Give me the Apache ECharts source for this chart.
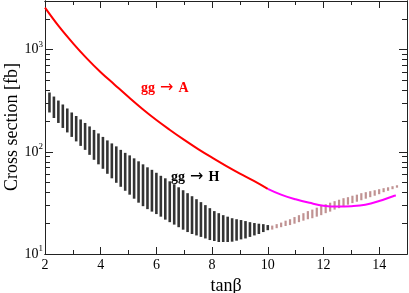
<!DOCTYPE html>
<html><head><meta charset="utf-8">
<script src="https://cdn.jsdelivr.net/npm/echarts@6/dist/echarts.min.js"></script>
<style>html,body{margin:0;padding:0;background:#fff}#c{width:409px;height:293px}</style>
</head><body><div id="c"></div>
<script>
// gg -> H : band of values per tanBeta (black part)
const hX = [2.16,2.32,2.48,2.64,2.80,2.96,3.12,3.28,3.44,3.60,3.76,3.92,4.08,4.24,4.40,4.56,4.72,4.88,5.04,5.20,5.36,5.52,5.68,5.84,6.00,6.16,6.32,6.48,6.64,6.80,6.96,7.12,7.28,7.44,7.60,7.76,7.92,8.08,8.24,8.40,8.56,8.72,8.88,9.04,9.20,9.36,9.52,9.68,9.84,10.00];
const hHigh = [381,348,318,291,266,243,224.5,207.6,191.9,177.4,163.9,151.5,140.1,129.5,121.0,113.2,104.6,97.8,92.4,86.4,80.8,75.5,70.6,66.7,62.4,58.3,55.1,51.5,48.2,45.0,42.1,39.4,36.8,34.4,32.2,30.1,28.1,26.3,25.1,24.0,23.2,22.4,21.9,21.5,21.0,20.5,20.1,19.8,19.6,19.2];
const hLow = [243,214.6,191.9,171.5,155.0,140.1,126.6,114.4,104.6,93.5,83.6,75.5,68.3,61.0,55.1,49.8,45.5,41.6,38.1,34.8,31.8,29.4,27.5,26.0,24.6,23.2,21.7,20.5,19.4,18.3,17.3,16.4,15.7,15.2,14.7,14.2,13.7,13.4,13.1,13.1,13.1,13.2,13.5,13.9,14.2,14.7,15.2,15.7,16.4,17.1];
// gg -> H : band continued (pink part)
const h2X = [10.16,10.32,10.48,10.64,10.80,10.96,11.12,11.28,11.44,11.60,11.76,11.92,12.08,12.24,12.40,12.56,12.72,12.88,13.04,13.20,13.36,13.52,13.68,13.84,14.00,14.16,14.32,14.48,14.64];
const h2High = [18.97,19.6,20.3,21.2,21.9,23.0,24.0,25.1,26.3,27.2,28.4,29.7,30.7,31.8,32.9,34.0,35.2,36.0,37.2,38.1,39.4,40.3,41.2,42.1,43.1,44.1,45.0,46.1,47.1];
const h2Low = [17.34,17.9,18.3,18.8,19.2,19.8,20.5,21.2,21.9,22.4,23.2,24.0,25.1,26.0,27.2,28.1,29.4,30.4,31.5,32.5,33.6,34.8,36.0,37.2,38.5,40.3,41.6,43.1,44.6];
// gg -> A (red part)
const aX = [2,2.5,3,3.5,4,4.5,5,5.5,6,6.5,7,7.5,8,8.5,9,9.5,10];
const aY = [2586,1692,1163,824,603,455,344,263,205,163,131,106.5,87.8,73,61.3,52,43.5];
// gg -> A (magenta part)
const mX = [10,10.5,11,11.5,12,12.5,13,13.5,14,14.5,14.6];
const mY = [43.5,37.9,34.3,31.7,29.7,29.1,29.4,30.4,33.0,36.8,37.3];
// ticks
const xMajor = [2,4,6,8,10,12,14];
const xMinor = [3,5,7,9,11,13,15];
const yMajor = [10,100,1000];
const yExp = {10:'1',100:'2',1000:'3'};
const yMinor = [20,30,40,50,60,70,80,90,200,300,400,500,600,700,800,900,2000,3000];
const yTitle = 'Cross section [fb]';
const xTitle = 'tanβ';

const F = '"Liberation Serif","DejaVu Serif","Times New Roman",serif';
const lineC = '#222';

function band(xs, lo, hi){ return xs.map((x,i)=>[x, lo[i], hi[i]]); }
function pts(xs, ys){ return xs.map((x,i)=>[x, ys[i]]); }

function xAx(pos, vals, len, labels){
  return {type:'value', position:pos, min:2, max:15, gridIndex:0,
    axisLine:{show:true, lineStyle:{color:lineC, width:1}},
    axisTick:{show:true, inside:true, length:len, customValues:vals, lineStyle:{color:lineC}},
    axisLabel:labels ? {show:true, customValues:xMajor, fontSize:14, fontFamily:F, color:'#000', margin:4} : {show:false},
    splitLine:{show:false}};
}
function yAx(pos, vals, len, labels){
  return {type:'log', logBase:10, position:pos, min:10, max:3000, gridIndex:0,
    axisLine:{show:true, lineStyle:{color:lineC, width:1}},
    axisTick:{show:true, inside:true, length:len, customValues:vals, lineStyle:{color:lineC}},
    axisLabel:labels ? {show:true, customValues:yMajor, margin:2,
      formatter:(v)=>'{a|10}{b|'+yExp[Math.round(v)]+'}',
      rich:{a:{fontSize:14, fontFamily:F, color:'#000'}, b:{fontSize:9, fontFamily:F, color:'#000', padding:[0,0,10,0]}}} : {show:false},
    splitLine:{show:false}, minorSplitLine:{show:false}};
}

const xa0 = xAx('bottom', xMajor, 7, true);
xa0.name = xTitle; xa0.nameLocation='middle'; xa0.nameGap = 18;
xa0.nameTextStyle = {fontSize:18, fontFamily:F, color:'#000'};
const ya0 = yAx('left', yMajor, 8, true);

function barSeries(data, color, w){
  return {type:'custom', xAxisIndex:0, yAxisIndex:0, z:2, silent:true,
    encode:{x:0, y:[1,2]}, data:data,
    renderItem:(params, api)=>{
      const x = api.value(0), lo = api.value(1), hi = api.value(2);
      const p1 = api.coord([x, hi]), p2 = api.coord([x, lo]);
      return {type:'rect', shape:{x:p1[0]-w/2, y:p1[1], width:w, height:Math.max(1.5, p2[1]-p1[1])}, style:{fill:color}};
    }};
}

const rich = {
  g:{fontSize:14, fontWeight:'bold', fontFamily:F},
  r:{fontSize:16, fontWeight:'normal', fontFamily:'"DejaVu Sans",sans-serif', padding:[0,5,0,5]}
};

const chart = echarts.init(document.getElementById('c'), null, {renderer:'canvas'});
chart.setOption({
  animation:false,
  backgroundColor:'#fff',
  grid:{left:45, right:2, top:1, bottom:39, containLabel:false, outerBoundsMode:'none'},
  xAxis:[xa0, xAx('bottom', xMinor, 4, false), xAx('top', xMajor, 7, false), xAx('top', xMinor, 4, false)],
  yAxis:[ya0, yAx('left', yMinor, 5, false), yAx('right', yMajor, 8, false), yAx('right', yMinor, 5, false)],
  series:[
    barSeries(band(hX, hLow, hHigh), '#333', 2.6),
    barSeries(band(h2X, h2Low, h2High), '#c09292', 2.2),
    {type:'line', data:pts(aX, aY), smooth:0.4, showSymbol:false, z:5, lineStyle:{color:'#ff0000', width:2}},
    {type:'line', data:pts(mX, mY), smooth:0.4, showSymbol:false, z:5, lineStyle:{color:'#ff00ff', width:2}}
  ],
  graphic:[
    {type:'text', x:12, y:127, rotation:Math.PI/2, z:10,
      style:{text:yTitle, fontSize:18, fontFamily:F, fill:'#000', align:'center', verticalAlign:'middle'}},
    {type:'text', left:141, top:80, z:10, style:{text:'{g|gg}{r|→}{g|A}', rich:rich, fill:'#ff0000'}},
    {type:'text', left:171, top:169, z:10, style:{text:'{g|gg}{r|→}{g|H}', rich:rich, fill:'#000'}}
  ]
});
</script></body></html>
